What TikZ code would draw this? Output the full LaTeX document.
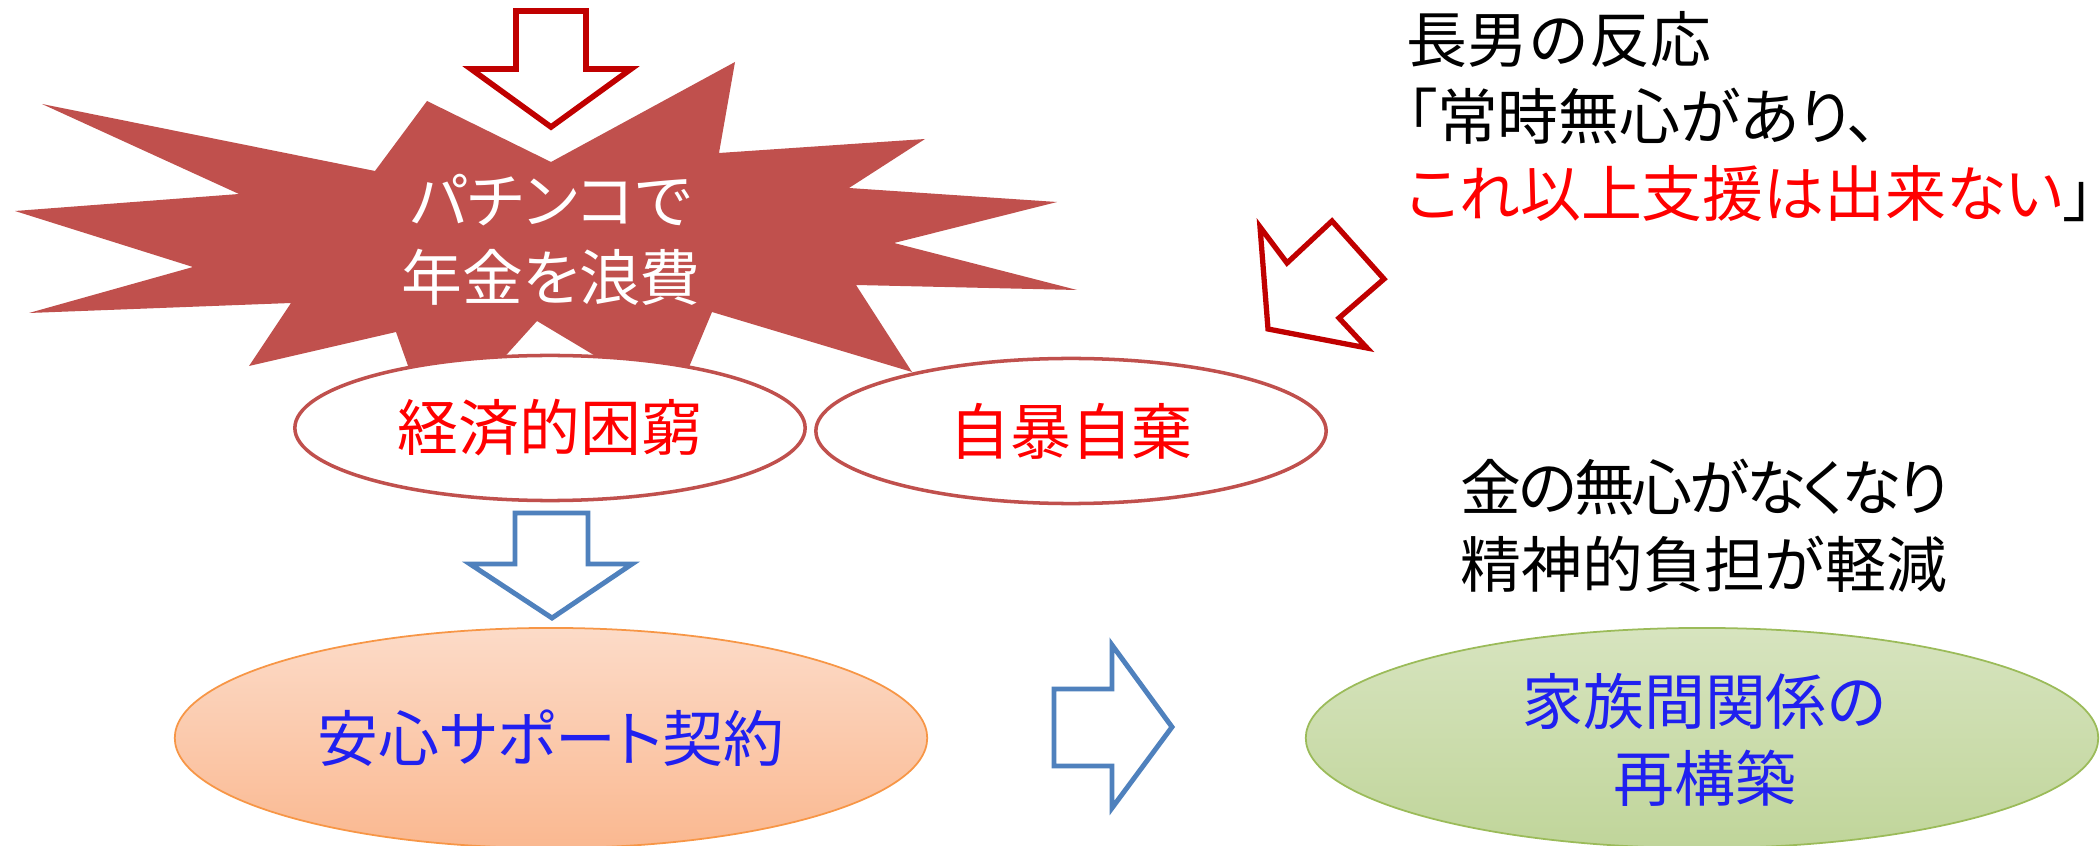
\documentclass[tikz,border=0pt]{standalone}
\usepackage{fontspec}
\newfontfamily\jp{Noto Sans CJK JP}
\newfontfamily\jpp{Noto Sans CJK JP}[RawFeature=+palt]
\newfontfamily\jpq{Noto Sans CJK JP}[RawFeature=+palt,LetterSpace=-5]
\usetikzlibrary{shapes.geometric}
\definecolor{starred}{HTML}{C0504D}
\definecolor{arrowred}{HTML}{C00000}
\definecolor{arrowblue}{HTML}{4F81BD}
\definecolor{txtred}{HTML}{FF0000}
\definecolor{txtblue}{HTML}{2020F0}
\definecolor{orangetop}{HTML}{FCDBC8}
\definecolor{orangebot}{HTML}{FAB890}
\definecolor{orangeline}{HTML}{F79646}
\definecolor{greentop}{HTML}{D7E4BF}
\definecolor{greenbot}{HTML}{C0D59A}
\definecolor{greenline}{HTML}{9BBB59}
\begin{document}
\begin{tikzpicture}[x=0.01cm,y=-0.01cm,
  jtext/.style={font=\jp\fontsize{17.3}{21.9}\selectfont, inner sep=0pt},
  ptext/.style={font=\jpp\fontsize{17.3}{21.9}\selectfont, inner sep=0pt},
  redarrow/.style={draw=arrowred, fill=white, line width=1.6pt, line join=miter},
  bluearrow/.style={draw=arrowblue, fill=white, line width=1.4pt, line join=miter},
  redell/.style={ellipse, draw=starred, line width=1pt, fill=white, inner sep=0pt,
    minimum width=5.1cm, minimum height=1.45cm, text=txtred},
]
\useasboundingbox (0,0) rectangle (2100,846);
\fill[white] (0,0) rectangle (2100,846);

% explosion star
\fill[starred] (551,162) -- (735,62) -- (719,153) -- (925,139) -- (849,188)
  -- (1057,202) -- (894,243) -- (1077,290) -- (856,285) -- (912,372)
  -- (712,312) -- (674,403) -- (537,321) -- (433,436) -- (396,332)
  -- (249,366) -- (291,303) -- (29,313) -- (193,267) -- (15,211)
  -- (239,194) -- (42,104) -- (375,171) -- (427,101) -- cycle;
\node[ptext, text=white, align=center] (star) at (551,240) {パチンコで\\年金を浪費};

% top red arrow
\draw[redarrow] (516,11) -- (586,11) -- (586,69) -- (631,69) -- (551,127)
  -- (471,69) -- (516,69) -- cycle;

% red ellipses
\node[redell, jtext, font=\jp\fontsize{17.3}{21.9}\selectfont] (e1) at (550,428) {経済的困窮};
\node[redell, jtext, font=\jp\fontsize{17.3}{21.9}\selectfont] (e2) at (1071,431) {自暴自棄};

% blue down arrow
\draw[bluearrow] (515,513) -- (588,513) -- (588,564) -- (632,564) -- (552,618)
  -- (470,564) -- (515,564) -- cycle;

% orange ellipse
\node[ellipse, draw=orangeline, line width=0.5pt, top color=orangetop, bottom color=orangebot,
  minimum width=7.52cm, minimum height=2.2cm, inner sep=0pt] (e3) at (551,738) {};
\node[ptext, text=txtblue] (t3) at (e3.center) {安心サポート契約};

% right blue arrow
\draw[bluearrow] (1054,689) -- (1112,689) -- (1112,645) -- (1172,727) -- (1112,808)
  -- (1112,766) -- (1054,766) -- cycle;

% green ellipse
\node[ellipse, draw=greenline, line width=0.5pt, top color=greentop, bottom color=greenbot,
  minimum width=7.92cm, minimum height=2.2cm, inner sep=0pt] (e4) at (1702,738) {};
\node[jtext, text=txtblue, align=center] (t4) at (1705,740) {家族間関係の\\再構築};

% diagonal red arrow
\draw[redarrow, line width=1.5pt] (1260,227) -- (1287,263) -- (1332,221) -- (1384,279)
  -- (1339,318) -- (1367,348) -- (1268,329) -- cycle;

% top right text
\node[jtext, align=left, anchor=west] (resp) at (1406,117)
  {長男の反応\\{\jpp 「常時無心があり、}\\{\jpp\textcolor{txtred}{これ以上支援は出来ない}」}};

% bottom right text
\node[jtext, align=left, anchor=west] (relief) at (1460,526)
  {{\jpq 金の無心がなくなり}\\精神的負担が軽減};
\end{tikzpicture}
\end{document}
